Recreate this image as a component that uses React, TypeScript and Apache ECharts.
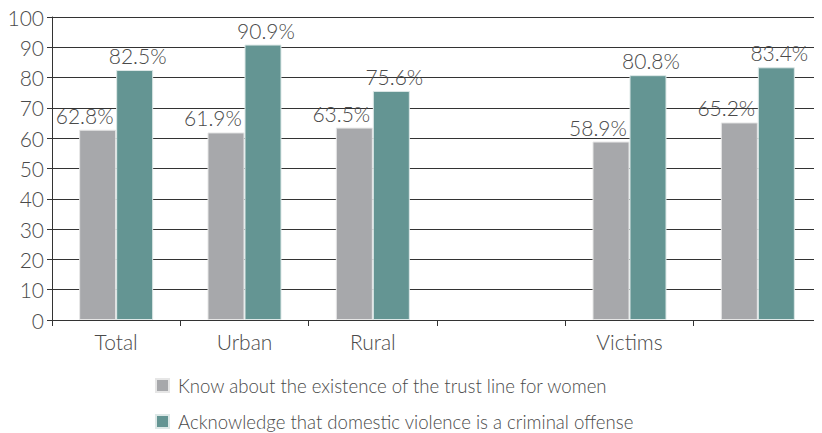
import React, { useEffect, useRef } from "react";
import * as echarts from "echarts";

const categories = ["Total", "Urban", "Rural", "", "Victims", ""];
const knowTrustLine = [62.8, 61.9, 63.5, null, 58.9, 65.2];
const acknowledgeOffense = [82.5, 90.9, 75.6, null, 80.8, 83.4];
const seriesNames = [
  "Know about the existence of the trust line for women",
  "Acknowledge that domestic violence is a criminal offense",
];

const FONT = "Lato";
const TEXT = "#4a4a4a";

export default function App() {
  const ref = useRef<HTMLDivElement>(null);
  useEffect(() => {
    const chart = echarts.init(ref.current!, null, { renderer: "svg" });
    const label = (offset: number[]) => ({
      show: true,
      position: "top",
      distance: 4,
      offset,
      formatter: (p: any) => `${p.value}%`,
      fontFamily: FONT,
      fontWeight: 300,
      fontSize: 21,
      color: TEXT,
    });
    chart.setOption({
      animation: false,
      textStyle: { fontFamily: FONT },
      grid: { left: 52, right: -2, top: 17, bottom: 113, containLabel: false },
      legend: {
        orient: "vertical",
        left: 155,
        top: 376,
        padding: 0,
        itemWidth: 13,
        itemHeight: 13,
        itemGap: 17,
        icon: "rect",
        textStyle: {
          fontFamily: FONT,
          fontWeight: 300,
          fontSize: 18.6,
          color: TEXT,
          padding: [0, 0, 0, 4],
        },
        data: seriesNames,
      },
      xAxis: {
        type: "category",
        data: categories,
        axisLine: { lineStyle: { color: "#333", width: 1 } },
        axisTick: { show: true, length: 6, lineStyle: { color: "#333" } },
        axisLabel: {
          fontFamily: FONT,
          fontWeight: 300,
          fontSize: 21,
          color: TEXT,
          margin: 11,
        },
      },
      yAxis: {
        type: "value",
        min: 0,
        max: 100,
        interval: 10,
        axisLine: { show: true, lineStyle: { color: "#333", width: 1 } },
        axisTick: { show: true, length: 5, lineStyle: { color: "#333" } },
        splitLine: { lineStyle: { color: "#333", width: 1 } },
        axisLabel: {
          fontFamily: FONT,
          fontWeight: 300,
          fontSize: 21,
          color: TEXT,
          margin: 8,
        },
      },
      series: [
        {
          name: seriesNames[0],
          type: "bar",
          data: knowTrustLine,
          barWidth: 37,
          barGap: "0%",
          itemStyle: { color: "#A7A8AB", borderColor: "#e6e6e6", borderWidth: 1 },
          label: label([-13, 0]),
        },
        {
          name: seriesNames[1],
          type: "bar",
          data: acknowledgeOffense,
          barWidth: 37,
          itemStyle: { color: "#649593", borderColor: "#dde8e7", borderWidth: 1 },
          label: label([3, 0]),
        },
      ],
    });
    return () => chart.dispose();
  }, []);
  return <div ref={ref} style={{ width: 822, height: 433, marginLeft: -8, marginTop: -8 }} />;
}
